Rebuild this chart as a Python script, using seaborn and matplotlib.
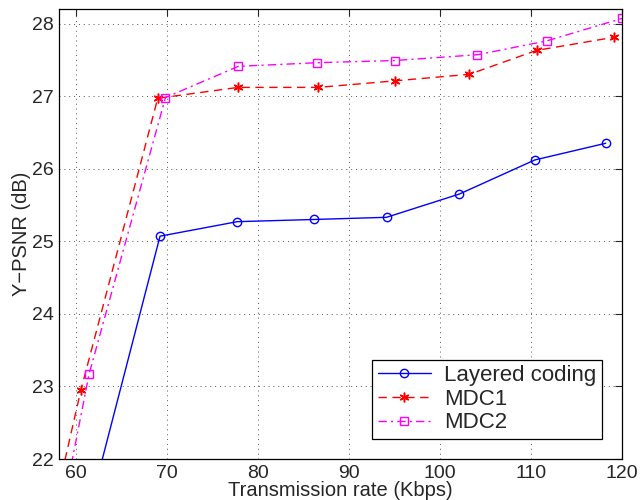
import numpy as np
import pandas as pd
import matplotlib
matplotlib.use("Agg")
import matplotlib.pyplot as plt
import seaborn as sns

layered_x = [61.0, 69.2, 77.7, 86.1, 94.1, 102.1, 110.4, 118.2]
layered_y = [21.1, 25.07, 25.27, 25.30, 25.33, 25.65, 26.12, 26.35]
mdc1_x = [57.5, 60.5, 68.95, 77.8, 86.6, 95.0, 103.2, 110.6, 119.1]
mdc1_y = [21.3, 22.95, 26.97, 27.12, 27.12, 27.21, 27.30, 27.63, 27.81]
mdc2_x = [58.0, 61.4, 69.8, 77.8, 86.5, 95.0, 104.1, 111.7, 120.0]
mdc2_y = [21.0, 23.17, 26.98, 27.41, 27.46, 27.49, 27.57, 27.76, 28.07]

series = ["Layered coding", "MDC1", "MDC2"]
xticks = [60, 70, 80, 90, 100, 110, 120]
yticks = [22, 23, 24, 25, 26, 27, 28]

sns.set_style("white")
plt.rcParams['font.family'] = ['Liberation Sans', 'DejaVu Sans']

fig = plt.figure(figsize=(6.42, 5.0), dpi=100)
ax = fig.add_axes([0.092, 0.082, 0.877, 0.9])

styles = {
    "Layered coding": dict(color="blue", linestyle="-", marker="o", markersize=6,
                           markerfacecolor="none", markeredgecolor="blue", markeredgewidth=1.0),
    "MDC1": dict(color="red", linestyle=(0, (6, 4)), marker=(6, 2, 0), markersize=7,
                 markerfacecolor="red", markeredgecolor="red", markeredgewidth=1.1),
    "MDC2": dict(color="magenta", linestyle=(0, (6, 3, 1.5, 3)), marker="s", markersize=6,
                 markerfacecolor="none", markeredgecolor="magenta", markeredgewidth=1.0),
}
data = {"Layered coding": (layered_x, layered_y), "MDC1": (mdc1_x, mdc1_y), "MDC2": (mdc2_x, mdc2_y)}

for name in series:
    xs, ys = data[name]
    df = pd.DataFrame({"x": xs, "y": ys})
    sns.lineplot(data=df, x="x", y="y", ax=ax, label=name, linewidth=1.0,
                 sort=False, estimator=None, clip_on=True, **styles[name])

ax.set_xlim(58.1, 120)
ax.set_ylim(22, 28.2)
ax.set_xticks(xticks)
ax.set_yticks(yticks)
ax.tick_params(direction="in", top=True, right=True, labelsize=14, length=5, width=0.8, pad=4)
ax.grid(True, linestyle=(0, (1, 4)), color="#555555", linewidth=0.7)
for s in ax.spines.values():
    s.set_visible(True)
    s.set_color("black")
    s.set_linewidth(0.9)

ax.set_xlabel("Transmission rate (Kbps)", fontsize=14.5)
ax.set_ylabel("Y\u2212PSNR (dB)", fontsize=14.5)
ax.xaxis.set_label_coords(0.5, -0.05)
ax.yaxis.set_label_coords(-0.05, 0.5)

leg = ax.legend(loc="lower right", fontsize=16, frameon=True, fancybox=False,
                edgecolor="black", framealpha=1, handlelength=2.4, borderpad=0.25,
                labelspacing=0.12, handletextpad=0.6, borderaxespad=0.9)
leg.get_frame().set_linewidth(0.9)

fig.savefig("out.png", dpi=100)
